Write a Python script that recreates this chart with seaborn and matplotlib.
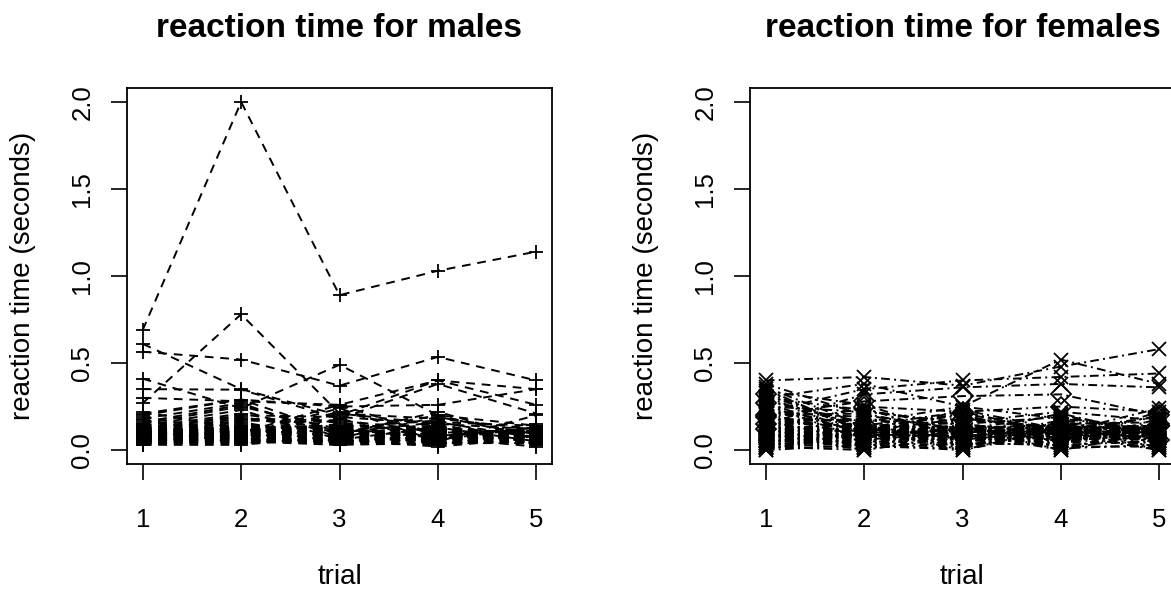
import numpy as np
import pandas as pd
import matplotlib
matplotlib.use("Agg")
import matplotlib.pyplot as plt
import seaborn as sns

trials = [1, 2, 3, 4, 5]

# reaction time (s) of each male subject, one list per trial (same subject order)
male_t1 = [0.69, 0.27, 0.61, 0.565, 0.41, 0.35, 0.21, 0.30,
           0.22, 0.20, 0.19, 0.18, 0.17, 0.16, 0.15, 0.15,
           0.14, 0.14, 0.13, 0.13, 0.12, 0.12, 0.12, 0.11,
           0.11, 0.11, 0.10, 0.10, 0.10, 0.10, 0.09, 0.09,
           0.09, 0.09, 0.08, 0.08, 0.08, 0.08, 0.07, 0.07,
           0.07, 0.07, 0.06, 0.06, 0.06, 0.06, 0.05, 0.05,
           0.05, 0.05, 0.04, 0.04, 0.04, 0.03, 0.03, 0.10,
           0.12, 0.09, 0.11, 0.08, 0.10, 0.07, 0.13, 0.06,
           0.09, 0.11, 0.05, 0.10, 0.08, 0.12, 0.07, 0.04]
male_t2 = [2.00, 0.78, 0.35, 0.52, 0.24, 0.347, 0.29, 0.28,
           0.12, 0.29, 0.10, 0.27, 0.09, 0.26, 0.08, 0.25,
           0.23, 0.07, 0.21, 0.06, 0.20, 0.11, 0.19, 0.05,
           0.18, 0.13, 0.17, 0.10, 0.16, 0.09, 0.15, 0.12,
           0.14, 0.08, 0.13, 0.11, 0.07, 0.12, 0.10, 0.06,
           0.09, 0.11, 0.05, 0.08, 0.10, 0.04, 0.07, 0.09,
           0.06, 0.08, 0.05, 0.07, 0.04, 0.06, 0.03, 0.05,
           0.10, 0.13, 0.08, 0.11, 0.06, 0.12, 0.09, 0.07,
           0.14, 0.05, 0.10, 0.08, 0.11, 0.04, 0.09, 0.12]
male_t3 = [0.89, 0.21, 0.20, 0.37, 0.49, 0.18, 0.25, 0.26,
           0.08, 0.10, 0.26, 0.07, 0.24, 0.09, 0.22, 0.12,
           0.06, 0.21, 0.11, 0.05, 0.19, 0.14, 0.10, 0.18,
           0.17, 0.08, 0.16, 0.13, 0.07, 0.15, 0.09, 0.12,
           0.11, 0.06, 0.14, 0.10, 0.05, 0.13, 0.08, 0.04,
           0.12, 0.09, 0.07, 0.11, 0.06, 0.10, 0.04, 0.08,
           0.05, 0.09, 0.03, 0.07, 0.06, 0.03, 0.08, 0.05,
           0.09, 0.07, 0.12, 0.10, 0.05, 0.11, 0.08, 0.13,
           0.06, 0.10, 0.04, 0.09, 0.12, 0.07, 0.11, 0.05]
male_t4 = [1.03, 0.15, 0.40, 0.535, 0.20, 0.38, 0.26, 0.40,
           0.06, 0.16, 0.08, 0.19, 0.05, 0.22, 0.10, 0.07,
           0.13, 0.18, 0.09, 0.04, 0.15, 0.12, 0.20, 0.06,
           0.11, 0.14, 0.08, 0.17, 0.05, 0.10, 0.13, 0.07,
           0.09, 0.16, 0.04, 0.12, 0.08, 0.03, 0.11, 0.06,
           0.14, 0.07, 0.10, 0.05, 0.09, 0.12, 0.03, 0.08,
           0.06, 0.10, 0.04, 0.07, 0.02, 0.09, 0.05, 0.11,
           0.08, 0.11, 0.06, 0.13, 0.09, 0.05, 0.10, 0.07,
           0.12, 0.04, 0.09, 0.11, 0.06, 0.10, 0.03, 0.08]
male_t5 = [1.14, 0.12, 0.26, 0.40, 0.14, 0.21, 0.35, 0.35,
           0.10, 0.07, 0.13, 0.09, 0.20, 0.06, 0.11, 0.15,
           0.05, 0.12, 0.08, 0.14, 0.04, 0.10, 0.07, 0.13,
           0.09, 0.06, 0.11, 0.03, 0.12, 0.08, 0.05, 0.10,
           0.07, 0.14, 0.04, 0.09, 0.06, 0.11, 0.08, 0.13,
           0.05, 0.10, 0.03, 0.07, 0.12, 0.06, 0.09, 0.04,
           0.08, 0.11, 0.05, 0.02, 0.07, 0.10, 0.06, 0.09,
           0.07, 0.10, 0.05, 0.09, 0.11, 0.06, 0.08, 0.12,
           0.04, 0.09, 0.07, 0.10, 0.05, 0.11, 0.08, 0.06]

# reaction time (s) of each female subject, one list per trial
female_t1 = [0.40, 0.30, 0.22, 0.15, 0.20, 0.12,
             0.38, 0.36, 0.34, 0.32, 0.30, 0.28, 0.27, 0.25,
             0.24, 0.22, 0.21, 0.20, 0.19, 0.18, 0.17, 0.16,
             0.15, 0.15, 0.14, 0.13, 0.13, 0.12, 0.12, 0.11,
             0.11, 0.10, 0.10, 0.09, 0.09, 0.08, 0.08, 0.07,
             0.07, 0.06, 0.06, 0.05, 0.05, 0.04, 0.04, 0.03,
             0.03, 0.02, 0.02, 0.01, 0.01, 0.00, 0.00, 0.10,
             0.35, 0.33, 0.31, 0.29, 0.26, 0.23, 0.19, 0.17,
             0.14, 0.13, 0.11, 0.10, 0.09, 0.08, 0.07, 0.06,
             0.05, 0.04, 0.03, 0.02, 0.12, 0.11, 0.09, 0.08]
female_t2 = [0.42, 0.38, 0.35, 0.32, 0.28, 0.25,
             0.20, 0.14, 0.26, 0.11, 0.23, 0.16, 0.09, 0.22,
             0.13, 0.19, 0.07, 0.21, 0.12, 0.17, 0.05, 0.18,
             0.10, 0.15, 0.24, 0.08, 0.14, 0.12, 0.03, 0.13,
             0.11, 0.09, 0.16, 0.06, 0.12, 0.10, 0.14, 0.04,
             0.08, 0.13, 0.02, 0.11, 0.07, 0.09, 0.01, 0.12,
             0.06, 0.10, 0.00, 0.08, 0.05, 0.03, 0.11, 0.00,
             0.10, 0.12, 0.08, 0.14, 0.06, 0.11, 0.09, 0.13,
             0.05, 0.10, 0.07, 0.12, 0.04, 0.09, 0.11, 0.03,
             0.08, 0.13, 0.06, 0.10, 0.02, 0.12, 0.07, 0.09]
female_t3 = [0.37, 0.25, 0.40, 0.36, 0.31, 0.22,
             0.12, 0.22, 0.09, 0.18, 0.14, 0.25, 0.08, 0.16,
             0.20, 0.06, 0.13, 0.10, 0.21, 0.15, 0.04, 0.11,
             0.17, 0.12, 0.07, 0.19, 0.09, 0.14, 0.02, 0.13,
             0.10, 0.23, 0.05, 0.12, 0.16, 0.08, 0.11, 0.03,
             0.14, 0.09, 0.01, 0.13, 0.06, 0.10, 0.15, 0.00,
             0.11, 0.07, 0.12, 0.04, 0.09, 0.00, 0.13, 0.08,
             0.11, 0.08, 0.13, 0.06, 0.10, 0.12, 0.05, 0.09,
             0.14, 0.07, 0.11, 0.04, 0.12, 0.08, 0.10, 0.13,
             0.03, 0.09, 0.11, 0.06, 0.12, 0.02, 0.10, 0.07]
female_t4 = [0.48, 0.52, 0.42, 0.38, 0.32, 0.25,
             0.15, 0.10, 0.21, 0.13, 0.08, 0.18, 0.12, 0.22,
             0.09, 0.16, 0.05, 0.14, 0.11, 0.19, 0.03, 0.12,
             0.13, 0.07, 0.17, 0.10, 0.15, 0.02, 0.11, 0.14,
             0.06, 0.12, 0.09, 0.20, 0.04, 0.13, 0.10, 0.08,
             0.12, 0.01, 0.14, 0.07, 0.11, 0.00, 0.09, 0.13,
             0.05, 0.10, 0.12, 0.03, 0.08, 0.11, 0.00, 0.06,
             0.09, 0.12, 0.07, 0.11, 0.13, 0.05, 0.10, 0.08,
             0.12, 0.04, 0.09, 0.14, 0.06, 0.11, 0.03, 0.10,
             0.12, 0.07, 0.13, 0.05, 0.09, 0.11, 0.02, 0.08]
female_t5 = [0.58, 0.38, 0.44, 0.36, 0.20, 0.22,
             0.11, 0.24, 0.08, 0.14, 0.20, 0.12, 0.06, 0.17,
             0.13, 0.09, 0.22, 0.04, 0.15, 0.10, 0.18, 0.12,
             0.07, 0.14, 0.11, 0.02, 0.16, 0.09, 0.13, 0.05,
             0.12, 0.19, 0.08, 0.10, 0.14, 0.01, 0.11, 0.06,
             0.13, 0.03, 0.10, 0.12, 0.07, 0.15, 0.00, 0.09,
             0.11, 0.08, 0.14, 0.05, 0.12, 0.00, 0.10, 0.13,
             0.12, 0.09, 0.11, 0.07, 0.13, 0.10, 0.05, 0.12,
             0.08, 0.14, 0.06, 0.11, 0.09, 0.03, 0.12, 0.10,
             0.07, 0.13, 0.04, 0.11, 0.08, 0.10, 0.02, 0.12]
# females drawn with open diamonds instead of crosses
female_diamond = [4, 5, 9, 12, 18, 23]


def to_long(cols):
    wide = pd.DataFrame(dict(zip(trials, cols)))
    wide["subject"] = range(len(wide))
    return wide.melt(id_vars=["subject"], var_name="trial", value_name="rt")


males = to_long([male_t1, male_t2, male_t3, male_t4, male_t5])
females = to_long([female_t1, female_t2, female_t3, female_t4, female_t5])
is_diamond = females["subject"].isin(female_diamond)

sns.set_theme(style="ticks", rc={"text.color": "black", "axes.labelcolor": "black",
                                 "xtick.color": "black", "ytick.color": "black",
                                 "axes.edgecolor": "black"})
plt.rcParams["font.family"] = ["Liberation Sans", "DejaVu Sans"]

W, H = 1171, 594
fig = plt.figure(figsize=(W / 100, H / 100), dpi=100)
ax1 = fig.add_axes([127 / W, (H - 464) / H, 425 / W, 376 / H])
ax2 = fig.add_axes([750 / W, (H - 464) / H, 425 / W, 376 / H])

common = dict(x="trial", y="rt", units="subject", estimator=None,
              color="black", linewidth=1.4, markersize=10, markeredgewidth=1.3,
              markeredgecolor="black", markerfacecolor="none", legend=False)

sns.lineplot(data=males, ax=ax1, marker="+", dashes=(4.5, 3.5), **common)
sns.lineplot(data=females[~is_diamond], ax=ax2, marker="x",
             dashes=(4.5, 2.2, 1.0, 2.2), **common)
sns.lineplot(data=females[is_diamond], ax=ax2, marker="D",
             dashes=(4.5, 2.2, 1.0, 2.2), **common)

for ax, title in [(ax1, "reaction time for males"), (ax2, "reaction time for females")]:
    ax.set_xlim(0.84, 5.16)
    ax.set_ylim(-0.08, 2.08)
    ax.set_xticks(trials)
    ax.set_yticks([0.0, 0.5, 1.0, 1.5, 2.0])
    ax.set_yticklabels(["0.0", "0.5", "1.0", "1.5", "2.0"])
    ax.tick_params(axis="both", direction="out", length=11.5, width=1.2,
                   labelsize=18.5, colors="black")
    ax.tick_params(axis="x", pad=20)
    ax.tick_params(axis="y", pad=12, labelrotation=90)
    for lbl in ax.get_yticklabels():
        lbl.set_va("center")
    for s in ax.spines.values():
        s.set_visible(True)
        s.set_color("black")
        s.set_linewidth(1.3)
    ax.set_xlabel("trial", fontsize=20)
    ax.set_ylabel("reaction time (seconds)", fontsize=20)
    ax.xaxis.set_label_coords(0.5, -0.30)
    ax.xaxis.label.set_va("center")
    ax.yaxis.set_label_coords(-0.245, 0.5)
    ax.yaxis.label.set_va("center")
    ax.set_title(title, fontsize=24, fontweight="bold", pad=37)
    ax.grid(False)

fig.savefig("out.png", dpi=100, facecolor="white")
